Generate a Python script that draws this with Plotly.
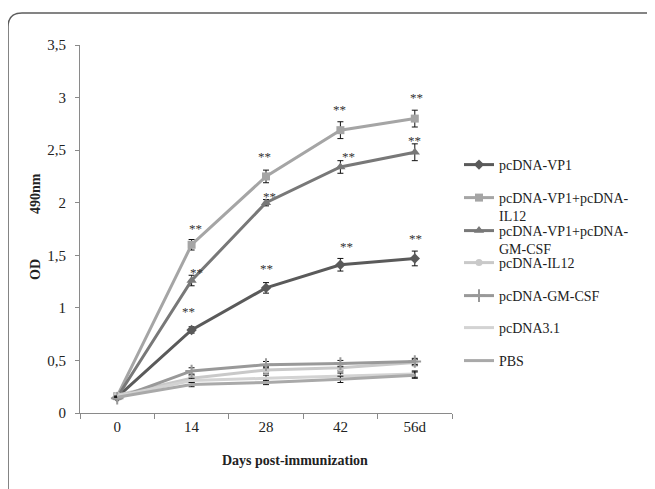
import plotly.graph_objects as go

days = ["0", "14", "28", "42", "56d"]

vp1 = [0.15, 0.79, 1.19, 1.41, 1.47]
vp1_err = [0.0, 0.03, 0.05, 0.06, 0.07]
vp1_il12 = [0.16, 1.60, 2.25, 2.69, 2.80]
vp1_il12_err = [0.0, 0.05, 0.06, 0.08, 0.08]
vp1_gm = [0.15, 1.26, 2.00, 2.34, 2.48]
vp1_gm_err = [0.0, 0.05, 0.03, 0.06, 0.08]
il12 = [0.17, 0.33, 0.41, 0.43, 0.48]
il12_err = [0.0, 0.03, 0.03, 0.03, 0.03]
gm = [0.14, 0.40, 0.46, 0.47, 0.49]
gm_err = [0.0, 0.03, 0.03, 0.03, 0.03]
pc31 = [0.16, 0.31, 0.33, 0.35, 0.37]
pc31_err = [0.0, 0.02, 0.03, 0.03, 0.03]
pbs = [0.15, 0.27, 0.29, 0.32, 0.36]
pbs_err = [0.0, 0.02, 0.02, 0.03, 0.03]

sig_vp1 = ["", "**", "**", "**", "**"]
sig_vp1_il12 = ["", "**", "**", "**", "**"]
sig_vp1_gm = ["", "**", "**", "**", "**"]

series = [
    ("pcDNA-VP1", vp1, vp1_err, "#5a5a5a", "diamond", 8),
    ("pcDNA-VP1+pcDNA-<br>IL12", vp1_il12, vp1_il12_err, "#a5a5a5", "square", 8),
    ("pcDNA-VP1+pcDNA-<br>GM-CSF", vp1_gm, vp1_gm_err, "#787878", "triangle-up", 9),
    ("pcDNA-IL12", il12, il12_err, "#c9c9c9", "circle", 7),
    ("pcDNA-GM-CSF", gm, gm_err, "#999999", "cross-thin", 9),
    ("pcDNA3.1", pc31, pc31_err, "#d3d3d3", None, 0),
    ("PBS", pbs, pbs_err, "#a9a9a9", None, 0),
]

# legend symbol pixel rows on screen (layout)
legend_rows = [165, 198, 231, 263, 296, 328, 361]

OFF = 8  # page body margin
L, T = 72, 37
W, H = 655, 489
pw, ph = 372, 368
R, B = W - L - pw, H - T - ph

def px(x):  # screen px -> paper
    return (x - OFF - L) / pw

def py(y):
    return (T + ph - (y - OFF)) / ph

fig = go.Figure()
for i, (name, vals, err, col, sym, msz) in enumerate(series):
    lg = "legend" if i == 0 else f"legend{i+1}"
    mode = "lines+markers" if sym else "lines"
    marker = dict(color=col, size=msz, symbol=sym or "circle",
                  line=dict(color=col, width=2 if sym == "cross-thin" else 0))
    fig.add_trace(go.Scatter(
        x=days, y=vals, name=name, mode=mode,
        line=dict(color=col, width=3),
        marker=marker,
        error_y=dict(type="data", array=err, color="#111111", thickness=1, width=3),
        legend=lg,
    ))

stars = [
    (vp1, sig_vp1, [0, -3, 0, 6, 1], [0, 18, 19, 18, 20]),
    (vp1_il12, sig_vp1_il12, [0, 4, -2, -1, 2], [0, 16, 20, 21, 21]),
    (vp1_gm, sig_vp1_gm, [0, 5, 3, 8, 0], [0, 8, 6, 10, 12]),
]
for vals, sig, xs, ys in stars:
    for idx, (v, s, dx, dy) in enumerate(zip(vals, sig, xs, ys)):
        if s:
            fig.add_annotation(x=idx, y=v, text=s, showarrow=False, xshift=dx, yshift=dy,
                               xanchor="center", yanchor="middle",
                               font=dict(family="Liberation Serif", size=13, color="#333333"))

# axis titles
ttl_font = dict(family="Liberation Serif", size=14, color="#222222")
fig.add_annotation(xref="paper", yref="paper", x=px(35), y=py(270), text="<b>OD</b>",
                   textangle=-90, showarrow=False, xanchor="center", yanchor="middle",
                   font=ttl_font)
fig.add_annotation(xref="paper", yref="paper", x=px(35), y=py(194), text="<b>490nm</b>",
                   textangle=-90, showarrow=False, xanchor="center", yanchor="middle",
                   font=ttl_font)
fig.add_annotation(xref="paper", yref="paper", x=px(295), y=py(460),
                   text="<b>Days post-immunization</b>", showarrow=False,
                   xanchor="center", yanchor="middle", font=ttl_font)

# rounded frame
xl, xr, yt, yb = px(8), px(661), py(13), py(510)
rx, ry = 14 / pw, 14 / ph
path = (f"M {xl},{yb} L {xl},{yt-ry} Q {xl},{yt} {xl+rx},{yt} "
        f"L {xr-rx},{yt} Q {xr},{yt} {xr},{yt-ry} L {xr},{yb}")
fig.add_shape(type="path", path=path, xref="paper", yref="paper",
              line=dict(color="#5c5c5c", width=1.5))

layout_legends = {}
for i, row in enumerate(legend_rows):
    key = "legend" if i == 0 else f"legend{i+1}"
    layout_legends[key] = dict(
        x=px(459), y=py(row - 16), xanchor="left", yanchor="top",
        bgcolor="rgba(0,0,0,0)", valign="top", itemwidth=30,
        font=dict(family="Liberation Serif", size=14, color="#222222"),
    )

fig.update_layout(
    width=W, height=H,
    margin=dict(l=L, r=R, t=T, b=B),
    paper_bgcolor="white", plot_bgcolor="white",
    separators=", ",
    showlegend=True,
    font=dict(family="Liberation Serif", size=15, color="#222222"),
    **layout_legends,
)
fig.update_xaxes(type="category", range=[-0.5, 4.5], showline=True, linecolor="#8a8a8a",
                 linewidth=1, ticks="outside", ticklen=5, tickcolor="#8a8a8a",
                 tickson="boundaries", showgrid=False, zeroline=False,
                 tickfont=dict(family="Liberation Serif", size=15, color="#222222"))
fig.update_yaxes(range=[0, 3.5], dtick=0.5, showline=True, linecolor="#8a8a8a", linewidth=1,
                 ticks="outside", ticklen=4, tickcolor="#8a8a8a", ticklabelstandoff=6,
                 showgrid=False, zeroline=False,
                 tickfont=dict(family="Liberation Serif", size=15, color="#222222"))

fig.write_html("out.html")
